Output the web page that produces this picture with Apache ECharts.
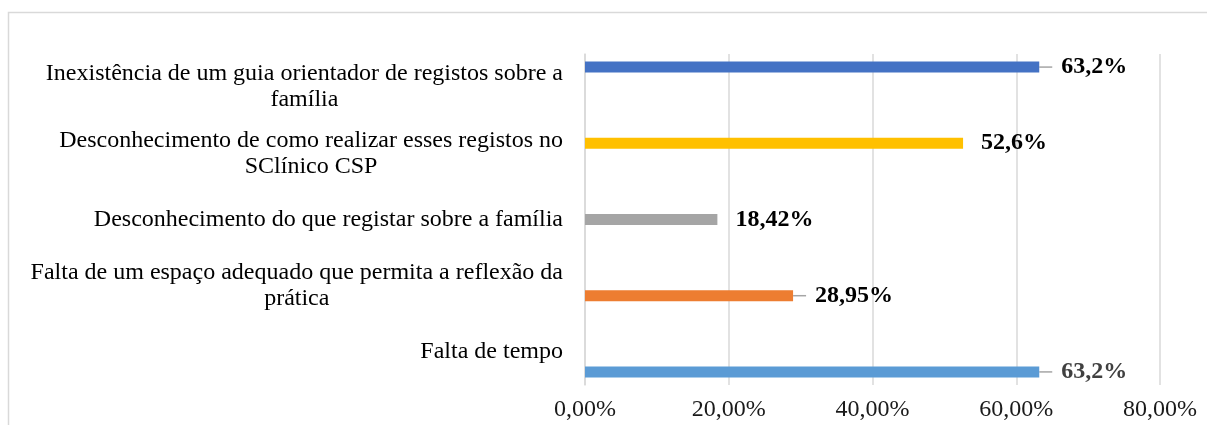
<!DOCTYPE html>
<html>
<head>
<meta charset="utf-8">
<script src="https://cdn.jsdelivr.net/npm/echarts@6/dist/echarts.min.js"></script>
<style>
html,body{margin:0;padding:0;background:#fff;}
#chart{width:1207px;height:425px;}
</style>
</head>
<body>
<div id="chart"></div>
<script>
// Categories listed bottom-to-top (ECharts category y-axis order)
const categories = [
  'Falta de tempo',
  'Falta de um espaço adequado que permita a reflexão da prática',
  'Desconhecimento do que registar sobre a família',
  'Desconhecimento de como realizar esses registos no SClínico CSP',
  'Inexistência de um guia orientador de registos sobre a família'
];
const values = [63.2, 28.95, 18.42, 52.6, 63.2];
const colors = ['#5B9BD5', '#ED7D31', '#A5A5A5', '#FFC000', '#4472C4'];
const labelColors = ['#404040', '#000000', '#000000', '#000000', '#000000'];
const showLeader = [true, true, false, false, true];
const xMin = 0, xMax = 80, xStep = 20;

const FONT = '"Liberation Serif", "Times New Roman", serif';
const FS = 24;

// word-wrap category text into lines no wider than maxW
const ctx = document.createElement('canvas').getContext('2d');
ctx.font = FS + 'px "Liberation Serif"';
function wrap(text, maxW) {
  const words = text.split(' ');
  const lines = [];
  let cur = '';
  words.forEach(w => {
    const t = cur ? cur + ' ' + w : w;
    if (cur && ctx.measureText(t).width > maxW) { lines.push(cur); cur = w; }
    else cur = t;
  });
  if (cur) lines.push(cur);
  return lines;
}

const fmtPct = v => String(v).replace('.', ',') + '%';

// series in reverse order so the top category's bar sits at the top of its group
const series = categories.map((c, i) => i).reverse().map(i => ({
  type: 'bar',
  name: categories[i],
  data: categories.map((_, j) => (j === i ? values[i] : '-')),
  barWidth: 11,
  barGap: '-9%',
  itemStyle: { color: colors[i] },
  label: {
    show: true,
    position: 'right',
    distance: showLeader[i] ? 0 : 18,
    formatter: p => showLeader[i] ? '{g|}{v|' + fmtPct(p.value) + '}' : fmtPct(p.value),
    fontFamily: FONT,
    fontWeight: 'bold',
    fontSize: FS,
    color: labelColors[i],
    rich: {
      g: { width: 9 },
      v: { fontFamily: FONT, fontWeight: 'bold', fontSize: FS, color: labelColors[i] }
    }
  },
  labelLayout: showLeader[i] ? { dx: 13 } : undefined,
  labelLine: showLeader[i] ? { show: true, length2: 0, lineStyle: { color: '#A5A5A5', width: 1.5 } } : { show: false },
  animation: false
}));

const chart = echarts.init(document.getElementById('chart'), null, { renderer: 'canvas' });
chart.setOption({
  animation: false,
  backgroundColor: '#fff',
  grid: { left: 585, right: 47, top: 54, bottom: 40, containLabel: false },
  xAxis: {
    type: 'value',
    min: xMin, max: xMax, interval: xStep,
    axisLine: { show: false },
    axisTick: { show: false },
    splitLine: { show: true, lineStyle: { color: '#D9D9D9', width: 1.5 } },
    axisLabel: {
      formatter: v => v.toFixed(2).replace('.', ',') + '%',
      fontFamily: FONT, fontSize: FS, color: '#1a1a1a', margin: 13
    }
  },
  yAxis: {
    type: 'category',
    data: categories,
    axisLine: { show: true, lineStyle: { color: '#D9D9D9', width: 1.5 } },
    axisTick: { show: false },
    axisLabel: {
      margin: 22,
      align: 'right',
      fontFamily: FONT, fontSize: FS, color: '#000', lineHeight: 26,
      formatter: v => wrap(v, 550).map(l => '{c|' + l + '}').join('\n'),
      rich: { c: { align: 'center', fontFamily: FONT, fontSize: FS, lineHeight: 26, color: '#000' } }
    }
  },
  graphic: [{
    type: 'rect', silent: true, z: -1,
    shape: { x: 8.5, y: 12.5, width: 1400, height: 600 },
    style: { fill: 'none', stroke: '#D9D9D9', lineWidth: 1.5 }
  }],
  series: series
});
</script>
</body>
</html>
